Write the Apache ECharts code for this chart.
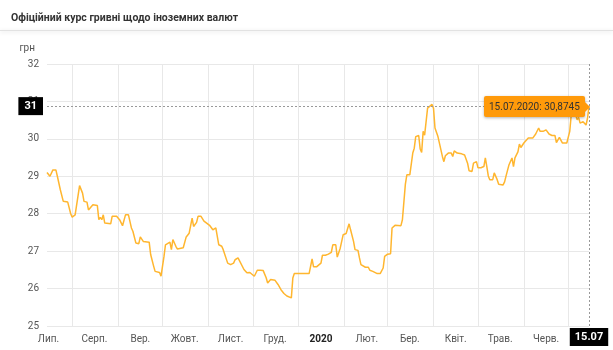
<!DOCTYPE html>
<html>
<head>
<meta charset="utf-8">
<script src="https://cdn.jsdelivr.net/npm/echarts@6/dist/echarts.min.js"></script>
<style>
html,body{margin:0;padding:0;background:#fff;}
#chart{width:613px;height:350px;}
</style>
</head>
<body>
<div id="chart"></div>
<script>
// ---- data ----
var titleText = 'Офіційний курс гривні щодо іноземних валют';
var unitName = 'грн';
var startDate = '2019-07-15';
var endDate = '2020-07-15';
var monthNames = ['Січ.','Лют.','Бер.','Квіт.','Трав.','Черв.','Лип.','Серп.','Вер.','Жовт.','Лист.','Груд.'];
var yMin = 25, yMax = 32, yStep = 1;
var rates = [
 ['2019-07-15',29.10],['2019-07-17',29.00],['2019-07-18',29.00],['2019-07-19',29.17],['2019-07-21',29.17],
 ['2019-07-22',29.00],['2019-07-24',28.64],['2019-07-26',28.33],['2019-07-29',28.31],['2019-07-31',28.00],
 ['2019-08-01',27.91],['2019-08-03',27.97],['2019-08-04',28.00],['2019-08-06',28.75],['2019-08-08',28.55],
 ['2019-08-09',28.33],['2019-08-11',28.31],['2019-08-12',28.10],['2019-08-15',28.24],['2019-08-18',28.22],
 ['2019-08-19',27.84],['2019-08-20',27.90],['2019-08-21',27.84],['2019-08-22',27.97],['2019-08-23',27.75],
 ['2019-08-27',27.73],['2019-08-28',27.93],['2019-08-31',27.93],['2019-09-02',27.84],['2019-09-04',27.68],
 ['2019-09-06',27.97],['2019-09-08',27.97],['2019-09-10',27.62],['2019-09-11',27.53],['2019-09-13',27.22],
 ['2019-09-15',27.20],['2019-09-16',27.38],['2019-09-18',27.26],['2019-09-22',27.24],['2019-09-23',26.91],
 ['2019-09-25',26.60],['2019-09-26',26.46],['2019-09-29',26.43],['2019-09-30',26.33],['2019-10-01',26.35],
 ['2019-10-02',26.86],['2019-10-03',27.17],['2019-10-06',27.24],['2019-10-07',27.04],['2019-10-08',27.31],
 ['2019-10-10',27.13],['2019-10-11',27.06],['2019-10-15',27.09],['2019-10-17',27.38],['2019-10-19',27.48],
 ['2019-10-21',27.88],['2019-10-22',27.66],['2019-10-24',27.77],['2019-10-25',27.93],['2019-10-27',27.93],
 ['2019-10-29',27.80],['2019-10-30',27.84],['2019-11-02',27.68],['2019-11-03',27.66],['2019-11-04',27.57],
 ['2019-11-06',27.62],['2019-11-08',27.17],['2019-11-10',27.13],['2019-11-11',27.04],['2019-11-14',26.68],
 ['2019-11-16',26.64],['2019-11-18',26.68],['2019-11-19',26.77],['2019-11-21',26.82],['2019-11-22',26.77],
 ['2019-11-25',26.51],['2019-11-27',26.42],['2019-11-29',26.43],['2019-12-02',26.33],['2019-12-04',26.49],
 ['2019-12-06',26.49],['2019-12-08',26.48],['2019-12-10',26.29],['2019-12-11',26.15],['2019-12-13',26.24],
 ['2019-12-16',26.22],['2019-12-18',26.11],['2019-12-20',25.97],['2019-12-22',25.87],['2019-12-24',25.80],
 ['2019-12-27',25.75],['2019-12-28',26.28],['2019-12-29',26.40],['2020-01-08',26.40],['2020-01-10',26.79],
 ['2020-01-11',26.58],['2020-01-13',26.58],['2020-01-16',26.68],['2020-01-17',26.89],['2020-01-19',26.89],
 ['2020-01-21',26.92],['2020-01-23',26.97],['2020-01-24',27.17],['2020-01-26',27.17],['2020-01-27',26.84],
 ['2020-01-29',27.08],['2020-01-31',27.44],['2020-02-02',27.47],['2020-02-04',27.73],['2020-02-05',27.57],
 ['2020-02-07',27.26],['2020-02-08',27.04],['2020-02-10',27.02],['2020-02-11',26.82],['2020-02-12',26.64],
 ['2020-02-13',26.68],['2020-02-15',26.57],['2020-02-17',26.57],['2020-02-18',26.49],['2020-02-20',26.46],
 ['2020-02-21',26.42],['2020-02-23',26.40],['2020-02-25',26.40],['2020-02-27',26.55],['2020-02-28',26.86],
 ['2020-03-01',26.92],['2020-03-03',26.93],['2020-03-04',27.62],['2020-03-06',27.69],['2020-03-10',27.68],
 ['2020-03-11',27.84],['2020-03-13',28.79],['2020-03-14',29.04],['2020-03-16',29.04],['2020-03-17',29.00],
 ['2020-03-18',29.62],['2020-03-19',29.75],['2020-03-20',30.06],['2020-03-22',30.09],['2020-03-23',29.73],
 ['2020-03-24',29.64],['2020-03-25',30.20],['2020-03-26',30.10],['2020-03-28',30.82],['2020-03-29',30.86],
 ['2020-03-31',30.92],['2020-04-01',30.82],['2020-04-02',30.29],['2020-04-03',30.31],['2020-04-04',30.06],
 ['2020-04-05',30.02],['2020-04-07',29.53],['2020-04-08',29.39],['2020-04-09',29.55],['2020-04-11',29.62],
 ['2020-04-13',29.62],['2020-04-14',29.53],['2020-04-15',29.68],['2020-04-17',29.62],['2020-04-20',29.60],
 ['2020-04-22',29.57],['2020-04-24',29.35],['2020-04-25',29.15],['2020-04-27',29.13],['2020-04-28',29.35],
 ['2020-04-30',29.39],['2020-05-01',29.23],['2020-05-03',29.23],['2020-05-05',29.26],['2020-05-06',29.49],
 ['2020-05-07',29.26],['2020-05-08',29.01],['2020-05-09',28.91],['2020-05-11',28.91],['2020-05-12',29.09],
 ['2020-05-13',29.09],['2020-05-14',28.91],['2020-05-15',28.79],['2020-05-18',28.77],['2020-05-19',28.85],
 ['2020-05-20',29.01],['2020-05-22',29.31],['2020-05-24',29.49],['2020-05-25',29.26],['2020-05-26',29.49],
 ['2020-05-28',29.65],['2020-05-29',29.86],['2020-05-30',29.77],['2020-06-01',29.89],['2020-06-02',29.93],
 ['2020-06-04',30.02],['2020-06-07',30.02],['2020-06-09',30.13],['2020-06-10',30.18],['2020-06-11',30.29],
 ['2020-06-12',30.20],['2020-06-14',30.20],['2020-06-16',30.24],['2020-06-17',30.24],['2020-06-18',30.13],
 ['2020-06-20',30.09],['2020-06-22',30.09],['2020-06-23',29.90],['2020-06-24',29.89],['2020-06-25',30.04],
 ['2020-06-27',29.89],['2020-06-30',29.89],['2020-07-01',29.84],['2020-07-02',30.20],['2020-07-03',30.64],
 ['2020-07-04',30.82],['2020-07-05',30.82],['2020-07-06',30.64],['2020-07-07',30.51],['2020-07-08',30.57],
 ['2020-07-09',30.42],['2020-07-11',30.46],['2020-07-12',30.46],['2020-07-13',30.37],['2020-07-14',30.55],
 ['2020-07-15',30.8745]
];

// ---- build daily category axis ----
function pad(n){ return (n < 10 ? '0' : '') + n; }
function fmt(d){ return d.getUTCFullYear() + '-' + pad(d.getUTCMonth() + 1) + '-' + pad(d.getUTCDate()); }
var days = [];
var cur = new Date(startDate + 'T00:00:00Z');
var last = new Date(endDate + 'T00:00:00Z');
while (cur <= last) { days.push(fmt(cur)); cur = new Date(cur.getTime() + 86400000); }

var lineColor = '#ffa62b';
var tipColor = '#ff9a0a';
var chart = echarts.init(document.getElementById('chart'), null, {renderer: 'canvas'});
var font = 'Roboto, Arial, sans-serif';

var option = {
  animation: false,
  textStyle: {fontFamily: font},
  title: {
    text: titleText, left: 6, top: 8,
    textStyle: {fontSize: 10.5, fontWeight: 'bold', color: '#333', fontFamily: font}
  },
  graphic: [{
    type: 'rect', left: 0, top: 30, silent: true,
    shape: {width: 613, height: 1},
    style: {fill: '#e2e2e2', shadowBlur: 4, shadowOffsetY: 1, shadowColor: 'rgba(0,0,0,0.18)'}
  }],
  grid: {left: 47, right: 24, top: 64, bottom: 24},
  tooltip: {
    trigger: 'axis',
    triggerOn: 'none',
    alwaysShowContent: true,
    transitionDuration: 0,
    backgroundColor: tipColor,
    borderWidth: 0,
    padding: [3, 5],
    textStyle: {color: '#333', fontSize: 10, fontFamily: font},
    extraCssText: 'box-shadow:0 1px 3px rgba(0,0,0,0.3);border-radius:2px;overflow:visible;color:#333;',
    axisPointer: {
      type: 'cross',
      lineStyle: {color: '#999', type: [2, 2], width: 1},
      crossStyle: {color: '#999', type: [2, 2], width: 1}
    },
    position: function (point, params, dom, rect, size) {
      return [point[0] - size.contentSize[0] - 4, point[1] - size.contentSize[1] / 2];
    },
    formatter: function (params) {
      var p = params[0];
      var d = p.value[0].split('-');
      var txt = d[2] + '.' + d[1] + '.' + d[0] + ': ' + String(p.value[1]).replace('.', ',');
      return '<span style="color:#333;font-size:10px;font-family:Roboto,Arial,sans-serif;">' + txt + '</span>' +
        '<span style="position:absolute;right:-5px;top:50%;margin-top:-5px;width:0;height:0;' +
        'border-left:5px solid ' + tipColor + ';border-top:5px solid transparent;border-bottom:5px solid transparent;"></span>';
    }
  },
  xAxis: {
    type: 'category',
    data: days,
    boundaryGap: false,
    axisLine: {show: false},
    axisTick: {show: false},
    splitLine: {
      show: true,
      interval: function (i, v) { return v.slice(8) === '01'; },
      lineStyle: {color: '#e8e8e8', width: 1}
    },
    axisLabel: {
      interval: function (i, v) { return v.slice(8) === '16'; },
      formatter: function (v) {
        var m = parseInt(v.slice(5, 7), 10);
        if (m === 1) return '{y|' + v.slice(0, 4) + '}';
        return monthNames[m - 1];
      },
      color: '#555', fontSize: 10, margin: 8, fontFamily: font,
      rich: {y: {fontWeight: 'bold', color: '#222', fontSize: 10, fontFamily: font}}
    },
    axisPointer: {
      label: {
        backgroundColor: '#000', color: '#fff', fontWeight: 'bold', fontSize: 11, padding: [4, 5, 3, 5],
        borderRadius: 0, margin: 2, fontFamily: font,
        formatter: function (o) { var d = o.value.split('-'); return d[2] + '.' + d[1]; }
      }
    }
  },
  yAxis: {
    type: 'value',
    min: yMin, max: yMax, interval: yStep,
    name: unitName,
    nameLocation: 'end',
    nameGap: 11,
    nameTextStyle: {color: '#555', fontSize: 10, align: 'right', padding: [0, 12, 0, 0], fontFamily: font},
    axisLine: {show: false},
    axisTick: {show: false},
    splitLine: {lineStyle: {color: '#e8e8e8', width: 1}},
    axisLabel: {color: '#555', fontSize: 10, margin: 8, fontFamily: font},
    axisPointer: {
      label: {
        backgroundColor: '#000', color: '#fff', fontWeight: 'bold', fontSize: 11, padding: [4, 6, 3, 6],
        borderRadius: 0, margin: 4, fontFamily: font,
        formatter: function (o) { return String(Math.round(o.value)); }
      }
    }
  },
  series: [{
    type: 'line',
    data: rates,
    showSymbol: false,
    symbol: 'none',
    lineStyle: {color: lineColor, width: 1.5},
    itemStyle: {color: lineColor}
  }]
};
chart.setOption(option);
function tip(){ chart.dispatchAction({type: 'showTip', seriesIndex: 0, dataIndex: rates.length - 1}); }
tip();
setTimeout(tip, 0);
</script>
</body>
</html>
